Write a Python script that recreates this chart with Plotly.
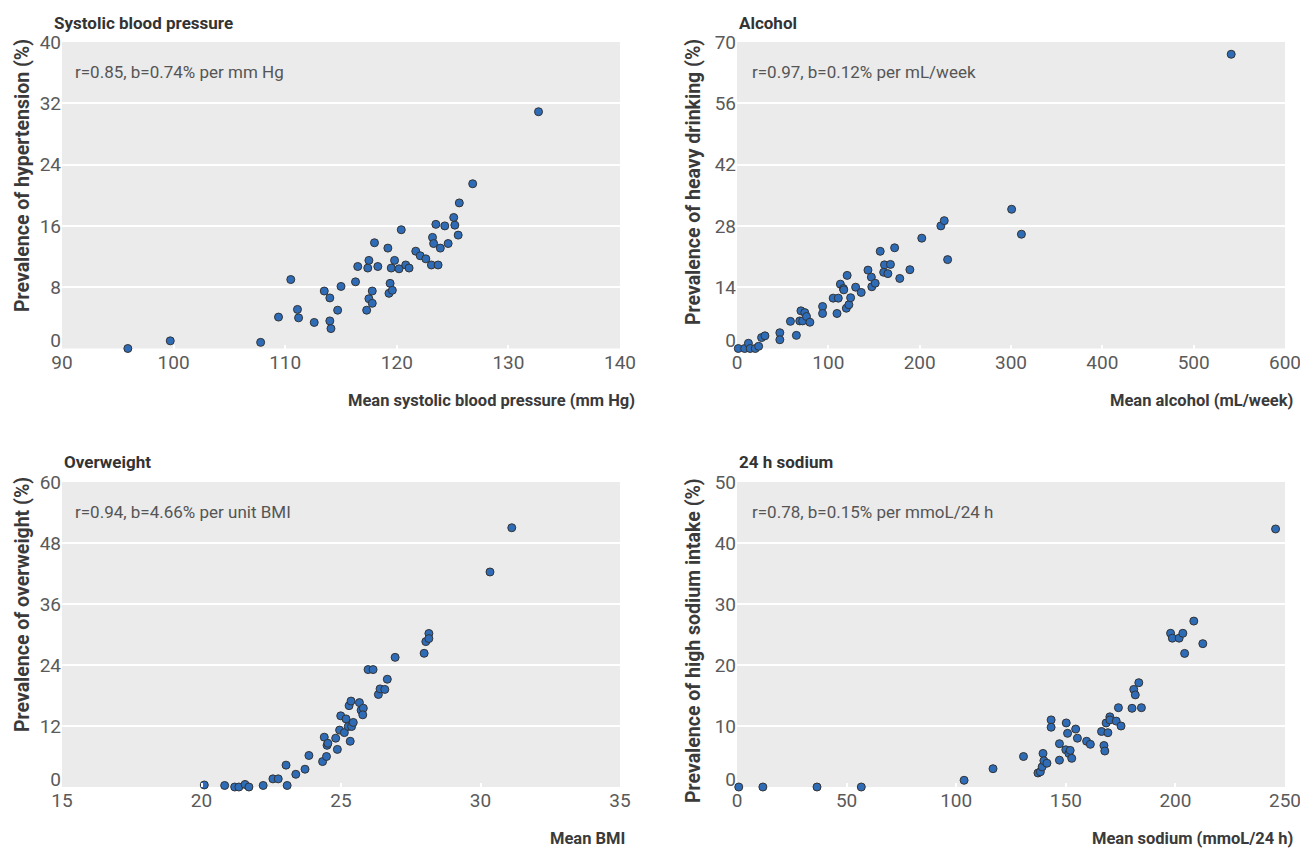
import plotly.graph_objects as go

# ---------------- data ----------------
sbp_x = [95.9, 99.7, 107.8, 109.4, 110.5, 111.1, 111.2, 112.6, 113.5, 114.0, 114.0, 114.1,
         114.7, 115.0, 116.3, 116.5, 117.3, 117.5, 117.4, 117.5, 117.8, 117.8, 118.0, 118.3,
         119.2, 119.3, 119.4, 119.5, 119.6, 119.8, 120.2, 120.4, 120.8, 121.1, 121.7, 122.1,
         122.6, 123.1, 123.2, 123.3, 123.5, 123.7, 123.9, 124.3, 124.6, 125.1, 125.2, 125.5,
         125.6, 126.8, 132.7]
sbp_y = [0.0, 1.0, 0.8, 4.1, 9.0, 5.1, 4.0, 3.4, 7.5, 6.6, 3.6, 2.6,
         5.0, 8.1, 8.7, 10.7, 5.0, 6.5, 10.5, 11.5, 7.5, 5.9, 13.8, 10.7,
         13.1, 7.2, 8.5, 10.5, 7.6, 11.5, 10.4, 15.5, 10.9, 10.5, 12.7, 12.1,
         11.7, 10.9, 14.5, 13.7, 16.2, 10.9, 13.1, 16.0, 13.7, 17.1, 16.1, 14.8,
         19.0, 21.5, 30.9]

alc_x = [1.4, 8.4, 12.5, 14.4, 20.0, 23.7, 26.9, 30.6, 46.9, 46.9, 58.5, 65.0, 70.0,
         68.7, 74.2, 71.9, 76.1, 79.8, 93.7, 93.7, 105.3, 109.5, 110.9, 113.2, 116.5,
         116.9, 120.6, 119.7, 122.5, 124.4, 129.9, 136.0, 143.4, 147.1, 147.6, 151.3,
         156.8, 161.5, 160.6, 165.2, 168.0, 172.6, 178.2, 189.3, 202.3, 223.2, 226.9,
         230.6, 300.7, 311.4, 541.1]
alc_y = [0.0, 0.0, 1.2, 0.0, 0.0, 0.5, 2.5, 2.9, 3.6, 2.0, 6.2, 3.0, 8.6,
         6.3, 8.2, 6.3, 7.3, 6.0, 9.6, 8.0, 11.5, 8.0, 11.5, 14.7, 13.7,
         13.4, 16.7, 9.2, 10.0, 11.6, 14.0, 12.8, 17.9, 16.3, 14.1, 14.9,
         22.2, 19.1, 17.4, 17.1, 19.2, 23.0, 16.0, 18.0, 25.2, 28.0, 29.2,
         20.3, 31.8, 26.1, 67.2]

bmi_x = [20.10, 20.83, 21.19, 21.34, 21.56, 21.70, 22.21, 22.56, 22.75, 23.03, 23.07,
         23.38, 23.71, 23.85, 24.34, 24.40, 24.48, 24.50, 24.53, 24.81, 24.87, 24.95,
         24.99, 25.12, 25.18, 25.26, 25.29, 25.33, 25.36, 25.38, 25.44, 25.66, 25.72,
         25.80, 25.78, 25.97, 26.15, 26.34, 26.40, 26.57, 26.66, 26.94, 27.98, 28.04,
         28.15, 28.15, 30.34, 31.12]
bmi_y = [0.4, 0.3, 0.0, 0.0, 0.5, 0.0, 0.3, 1.6, 1.6, 4.3, 0.3,
         2.5, 3.5, 6.2, 5.0, 9.8, 6.0, 8.2, 8.6, 9.6, 7.4, 11.2,
         14.0, 10.7, 13.4, 11.9, 16.0, 9.0, 16.9, 11.9, 12.7, 16.6, 15.1,
         15.5, 14.2, 23.1, 23.1, 18.2, 19.3, 19.2, 21.2, 25.5, 26.3, 28.6,
         30.2, 29.2, 42.3, 51.0]

na_x = [0.8, 11.8, 36.5, 56.7, 103.6, 116.8, 130.7, 137.3, 138.4, 139.2, 139.6, 140.0,
        141.4, 143.3, 143.3, 147.1, 147.1, 150.2, 150.0, 150.8, 151.4, 152.0, 152.7,
        154.5, 155.3, 159.5, 161.2, 166.3, 167.4, 167.8, 168.4, 169.2, 170.1, 170.1,
        173.0, 174.0, 175.2, 180.2, 181.0, 181.7, 183.3, 184.5, 197.8, 198.6, 201.7,
        203.4, 204.2, 208.4, 212.5, 245.7]
na_y = [0.0, 0.0, 0.0, 0.0, 1.1, 3.0, 5.0, 2.3, 2.5, 3.3, 5.5, 4.3,
        3.9, 11.0, 9.8, 7.1, 4.4, 10.5, 6.1, 8.8, 5.5, 6.0, 4.7,
        9.5, 8.0, 7.5, 7.0, 9.1, 6.8, 5.9, 10.5, 8.9, 11.5, 11.0,
        10.8, 13.0, 10.0, 12.9, 16.0, 15.1, 17.1, 13.0, 25.2, 24.4, 24.4,
        25.2, 21.9, 27.2, 23.5, 42.3]

panel_titles = ["Systolic blood pressure", "Alcohol", "Overweight", "24 h sodium"]
stat_texts = ["r=0.85, b=0.74% per mm Hg", "r=0.97, b=0.12% per mL/week",
              "r=0.94, b=4.66% per unit BMI", "r=0.78, b=0.15% per mmoL/24 h"]
x_titles = ["Mean systolic blood pressure (mm Hg)", "Mean alcohol (mL/week)",
            "Mean BMI", "Mean sodium (mmoL/24 h)"]
y_titles = ["Prevalence of hypertension (%)", "Prevalence of heavy drinking (%)",
            "Prevalence of overweight (%)", "Prevalence of high sodium intake (%)"]
x_ticks = [[90, 100, 110, 120, 130, 140], [0, 100, 200, 300, 400, 500, 600],
           [15, 20, 25, 30, 35], [0, 50, 100, 150, 200, 250]]
y_ticks = [[0, 8, 16, 24, 32, 40], [0, 14, 28, 42, 56, 70],
           [0, 12, 24, 36, 48, 60], [0, 10, 20, 30, 40, 50]]

# ---------------- layout geometry (screen pixels) ----------------
# The page body keeps an 8 px margin, so the figure is made 8 px smaller
# and every screen position is converted to paper coordinates with that offset.
OFF = 8
W, H = 1308 - OFF, 853 - OFF
FONT = "Roboto"
px = lambda v: (v - OFF) / W
py = lambda v: 1 - (v - OFF) / H

LX, RX = [62, 620], [737, 1285]
TY, BY = [42, 348.5], [482, 787]
xdom = [[px(LX[0]), px(LX[1])], [px(RX[0]), px(RX[1])], [px(LX[0]), px(LX[1])], [px(RX[0]), px(RX[1])]]
ydom = [[py(TY[1]), py(TY[0])], [py(TY[1]), py(TY[0])], [py(BY[1]), py(BY[0])], [py(BY[1]), py(BY[0])]]

TICKFONT = dict(family=FONT, size=19, color="#5a5a5a")

fig = go.Figure()
series = [(sbp_x, sbp_y), (alc_x, alc_y), (bmi_x, bmi_y), (na_x, na_y)]
for i, (xs, ys) in enumerate(series):
    ax = "" if i == 0 else str(i + 1)
    fig.add_trace(go.Scatter(
        x=xs, y=ys, mode="markers", xaxis="x" + ax, yaxis="y" + ax,
        marker=dict(size=8, color="#2f6cb7", line=dict(color="#333333", width=1)),
        cliponaxis=False, showlegend=False, hoverinfo="x+y"))

layout = dict(width=W, height=H,
              margin=dict(l=0, r=0, t=0, b=0, pad=0, autoexpand=False),
              paper_bgcolor="white", plot_bgcolor="#ebebeb",
              font=dict(family=FONT, color="#555555", size=17))

for i in range(4):
    ax = "" if i == 0 else str(i + 1)
    xt, yt = x_ticks[i], y_ticks[i]
    layout["xaxis" + ax] = dict(
        domain=xdom[i], range=[xt[0], xt[-1]], tickvals=xt, showgrid=False,
        zeroline=False, showline=False, ticks="inside", ticklen=4, tickcolor="white",
        tickwidth=2, tickfont=TICKFONT, anchor="y" + ax, automargin=False,
        fixedrange=True)
    # main y axis: gridlines and all tick labels except the zero label
    layout["yaxis" + ax] = dict(
        domain=ydom[i], range=[yt[0], yt[-1]], tickvals=yt[1:], showgrid=True,
        gridcolor="white", gridwidth=2, zeroline=False, showline=False, ticks="",
        tickfont=TICKFONT, anchor="x" + ax, automargin=False, fixedrange=True)
    # overlay y axis carrying only the zero label, lifted slightly as in the original
    layout["yaxis" + str(i + 5)] = dict(
        overlaying="y" + ax, anchor="x" + ax, side="left", range=[yt[0], yt[-1]],
        tickvals=[yt[0]], showgrid=False, zeroline=False, showline=False, ticks="",
        tickfont=TICKFONT, ticklabelshift=-8, automargin=False, fixedrange=True)
    fig.add_trace(go.Scatter(x=[None], y=[None], xaxis="x" + ax, yaxis="y" + str(i + 5),
                             mode="markers", showlegend=False, hoverinfo="skip"))

fig.update_layout(**layout)

title_pos = [(52, 23), (737, 23), (62, 462), (737, 462)]
stat_pos = [(73, 72), (750, 72), (73, 512), (750, 512)]
xt_pos = [(637, 400), (1295, 400), (627, 838), (1295, 838)]
yt_pos = [(22, 176), (693, 182), (22, 605), (693, 641)]

for i in range(4):
    fig.add_annotation(text="<b>" + panel_titles[i] + "</b>", x=px(title_pos[i][0]), y=py(title_pos[i][1]),
                       xref="paper", yref="paper", xanchor="left", yanchor="middle", showarrow=False,
                       font=dict(family=FONT, size=17, color="#333333"))
    fig.add_annotation(text=stat_texts[i], x=px(stat_pos[i][0]), y=py(stat_pos[i][1]),
                       xref="paper", yref="paper", xanchor="left", yanchor="middle", showarrow=False,
                       font=dict(family=FONT, size=17, color="#555555"))
    fig.add_annotation(text="<b>" + x_titles[i] + "</b>", x=px(xt_pos[i][0]), y=py(xt_pos[i][1]),
                       xref="paper", yref="paper", xanchor="right", yanchor="middle", showarrow=False,
                       font=dict(family=FONT, size=16.5, color="#3a3a3a"))
    fig.add_annotation(text="<b>" + y_titles[i] + "</b>", x=px(yt_pos[i][0]), y=py(yt_pos[i][1]),
                       xref="paper", yref="paper", xanchor="center", yanchor="middle", showarrow=False,
                       textangle=-90, borderpad=0, font=dict(family=FONT, size=19.5, color="#3a3a3a"))

fig.write_html("out.html")
